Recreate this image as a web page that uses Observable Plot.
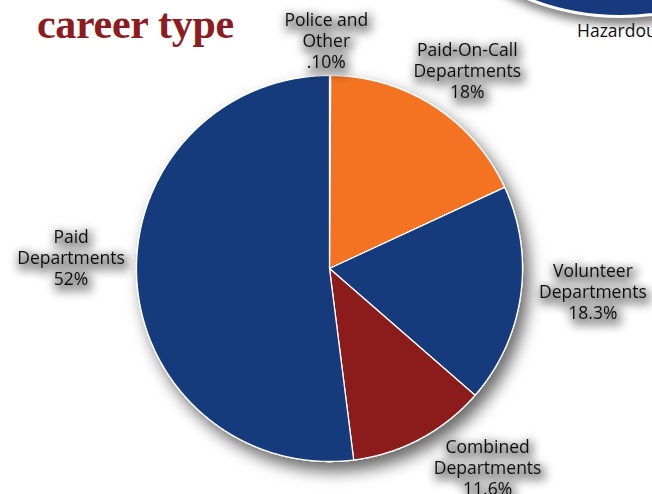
<!DOCTYPE html>
<html>
<head>
<meta charset="utf-8">
<script src="https://cdn.jsdelivr.net/npm/d3@7"></script>
<script src="https://cdn.jsdelivr.net/npm/@observablehq/plot@0.6"></script>
<style>
  html, body { margin: 0; padding: 0; background: #fff; overflow: hidden; }
  #wrap { position: relative; width: 652px; height: 494px; overflow: hidden; }
  #chart { position: absolute; left: 0; top: 0; }
  #title { position: absolute; left: 37px; top: 3px; font-family: "Liberation Serif", serif; font-weight: bold; font-size: 42px; line-height: 42px; color: #8e1b1f; white-space: nowrap; letter-spacing: -0.3px; }
  #otherCircle { position: absolute; left: 370px; top: -482px; width: 500px; height: 500px; box-sizing: border-box; border-radius: 50%; background: #163a7d; border: 3px solid #fff; box-shadow: 4px 7px 10px rgba(0,0,0,0.5); }
  #otherLabel { position: absolute; left: 577px; top: 20px; font-family: "Open Sans", sans-serif; font-size: 17.5px; line-height: 20px; color: #111; white-space: nowrap; }
</style>
</head>
<body>
<svg width="0" height="0" style="position:absolute">
  <defs>
    <filter id="pieShadow" x="-15%" y="-15%" width="140%" height="140%">
      <feDropShadow dx="6" dy="9" stdDeviation="8" flood-color="#000" flood-opacity="0.6"/>
    </filter>
    <filter id="textShadow" x="-40%" y="-60%" width="180%" height="220%">
      <feMorphology in="SourceAlpha" operator="dilate" radius="3" result="d"/>
      <feGaussianBlur in="d" stdDeviation="5" result="b"/>
      <feOffset in="b" dx="2" dy="4" result="o"/>
      <feFlood flood-color="#000" flood-opacity="0.38"/>
      <feComposite in2="o" operator="in" result="s"/>
      <feMerge><feMergeNode in="s"/><feMergeNode in="SourceGraphic"/></feMerge>
    </filter>
  </defs>
</svg>
<div id="wrap">
  <div id="otherCircle"></div>
  <div id="otherLabel">Hazardous</div>
  <div id="chart"></div>
  <div id="title">career type</div>
</div>
<script>
// ---- data ----
const categories = ["Police and Other", "Paid-On-Call Departments", "Volunteer Departments", "Combined Departments", "Paid Departments"];
const shares = [0.10, 18, 18.3, 11.6, 52];
const shareLabels = [".10%", "18%", "18.3%", "11.6%", "52%"];
const labelTexts = ["Police and\nOther", "Paid-On-Call\nDepartments", "Volunteer\nDepartments", "Combined\nDepartments", "Paid\nDepartments"];
const sliceColors = ["#8c1a1c", "#f37321", "#163a7d", "#8c1a1c", "#163a7d"];

// ---- layout (hand placement of labels, pixel nudges from the mid-angle anchor) ----
const W = 652, H = 494;
const margins = {left: 136, right: 130, top: 75, bottom: 33};
const pxPerUnit = (W - margins.left - margins.right) / 2;
const labelRadius = 1.3;
const labelNudge = {
  "Police and Other": [-4, 23],
  "Paid-On-Call Departments": [2, 13],
  "Volunteer Departments": [15, -13],
  "Combined Departments": [40, -23],
  "Paid Departments": [-8, -27]
};

const rows = categories.map((c, i) => ({category: c, share: shares[i], text: labelTexts[i] + "\n" + shareLabels[i]}));
const arcs = d3.pie().sort(null).value(d => d.share)(rows);

const slices = arcs.map(a => {
  const ring = [[0, 0]];
  const steps = Math.max(2, Math.ceil((a.endAngle - a.startAngle) / (Math.PI / 720)));
  for (let i = 0; i <= steps; ++i) {
    const t = a.startAngle + (a.endAngle - a.startAngle) * i / steps;
    ring.push([Math.sin(t), Math.cos(t)]);
  }
  ring.push([0, 0]);
  return {category: a.data.category, geometry: {type: "Polygon", coordinates: [ring]}};
});

const labels = arcs.map(a => {
  const mid = (a.startAngle + a.endAngle) / 2;
  const [nx, ny] = labelNudge[a.data.category];
  return {
    text: a.data.text,
    x: labelRadius * Math.sin(mid) + nx / pxPerUnit,
    y: labelRadius * Math.cos(mid) - ny / pxPerUnit
  };
});

const chart = Plot.plot({
  width: W,
  height: H,
  marginLeft: margins.left,
  marginRight: margins.right,
  marginTop: margins.top,
  marginBottom: margins.bottom,
  style: {background: "transparent", overflow: "visible"},
  projection: {
    type: "reflect-y",
    clip: false,
    domain: {type: "Polygon", coordinates: [[[-1, -1], [1, -1], [1, 1], [-1, 1], [-1, -1]]]}
  },
  color: {domain: categories, range: sliceColors},
  marks: [
    Plot.geo(slices, {geometry: d => d.geometry, fill: d => d.category, stroke: "white", strokeWidth: 1.3, strokeLinejoin: "round"}),
    Plot.text(labels, {
      x: "x", y: "y", text: "text",
      fontSize: 17.5, lineHeight: 1.2, lineAnchor: "middle", textAnchor: "middle",
      fontFamily: "Open Sans, sans-serif", fill: "#111"
    })
  ]
});
document.getElementById("chart").appendChild(chart);
d3.select(chart).selectAll('g[aria-label="geo"]').attr("filter", "url(#pieShadow)");
d3.select(chart).selectAll('g[aria-label="text"] text').attr("filter", "url(#textShadow)");
</script>
</body>
</html>
